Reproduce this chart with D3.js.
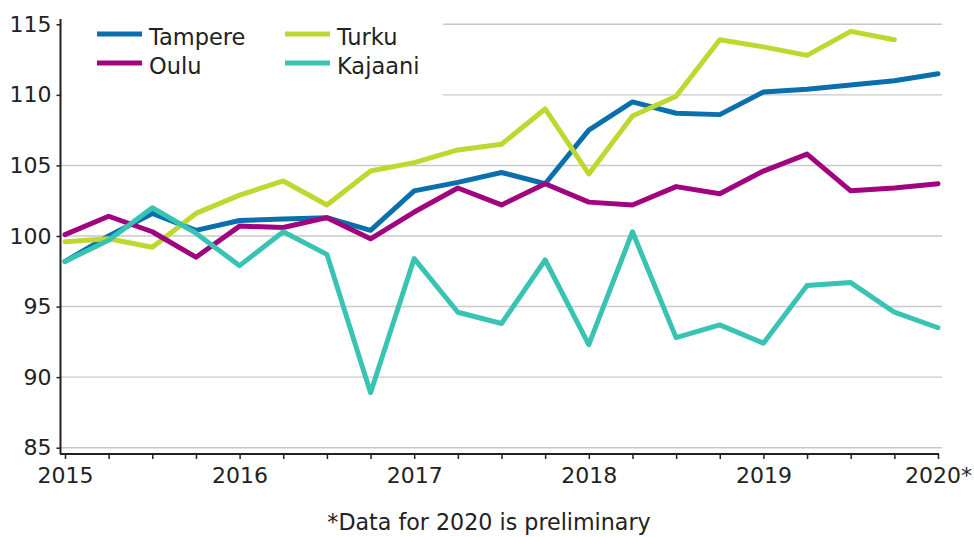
<!DOCTYPE html>
<html>
<head>
<meta charset="utf-8">
<script src="https://cdn.jsdelivr.net/npm/d3@7"></script>
<style>
    body { margin: 0; background: #fff; }
    svg { display: block; font-family: "DejaVu Sans", Verdana, sans-serif; }
</style>
</head>
<body>
<svg id="chart" width="974" height="537"></svg>
<script>
// quarterly index values, 2015Q1 .. 2020Q1
const quarters = d3.range(21);
const yearTicks = [0, 4, 8, 12, 16, 20];
const yearLabels = ["2015", "2016", "2017", "2018", "2019", "2020*"];
const yTicks = [85, 90, 95, 100, 105, 110, 115];

const tampere = [98.2, 100.0, 101.6, 100.4, 101.1, 101.2, 101.3, 100.4, 103.2, 103.8, 104.5, 103.7,
    107.5, 109.5, 108.7, 108.6, 110.2, 110.4, 110.7, 111.0, 111.5];
const turku = [99.6, 99.8, 99.2, 101.6, 102.9, 103.9, 102.2, 104.6, 105.2, 106.1, 106.5, 109.0,
    104.4, 108.5, 109.9, 113.9, 113.4, 112.8, 114.5, 113.9, null];
const oulu = [100.1, 101.4, 100.3, 98.5, 100.7, 100.6, 101.3, 99.8, 101.7, 103.4, 102.2, 103.7,
    102.4, 102.2, 103.5, 103.0, 104.6, 105.8, 103.2, 103.4, 103.7];
const kajaani = [98.2, 99.7, 102.0, 100.2, 97.9, 100.3, 98.7, 88.9, 98.4, 94.6, 93.8, 98.3,
    92.3, 100.3, 92.8, 93.7, 92.4, 96.5, 96.7, 94.6, 93.5];

const seriesNames = ["Tampere", "Turku", "Oulu", "Kajaani"];
const seriesValues = [tampere, turku, oulu, kajaani];
const seriesColors = ["#0a70ad", "#bfd72f", "#a0047f", "#38c3b2"];

let svg = d3.select("#chart");

let x = d3.scaleLinear().domain([0, 20]).range([65, 938]);
let y = d3.scaleLinear().domain([85, 115]).range([447.7, 24.3]);

// grid
svg.append("g")
    .selectAll("line")
    .data(yTicks)
    .join("line")
    .attr("x1", 61)
    .attr("x2", 942)
    .attr("y1", d => y(d))
    .attr("y2", d => y(d))
    .attr("stroke", "#c9c9c9")
    .attr("stroke-width", 1.4);

// legend backdrop hides grid behind it
svg.append("rect")
    .attr("x", 62)
    .attr("y", 10)
    .attr("width", 381)
    .attr("height", 92)
    .attr("fill", "#fff");

// y axis
let yAxis = svg.append("g")
    .attr("transform", "translate(60.5,0)")
    .call(d3.axisLeft(y).tickValues(yTicks).tickSize(4).tickPadding(5).tickSizeOuter(0));
yAxis.select(".domain").attr("stroke", "#222").attr("stroke-width", 2)
    .attr("d", "M0,19V454");
yAxis.selectAll(".tick line").attr("stroke", "#222").attr("stroke-width", 1.5);
yAxis.selectAll(".tick text")
    .attr("font-size", 22)
    .attr("font-family", "DejaVu Sans, sans-serif")
    .attr("fill", "#222");

// x axis
let xAxis = svg.append("g")
    .attr("transform", "translate(0,454)")
    .call(d3.axisBottom(x).tickValues(quarters).tickSize(5).tickPadding(8).tickSizeOuter(0)
        .tickFormat(d => {
            let k = yearTicks.indexOf(d);
            return k >= 0 ? yearLabels[k] : "";
        }));
xAxis.select(".domain").attr("stroke", "#222").attr("stroke-width", 2)
    .attr("d", "M60,0H939");
xAxis.selectAll(".tick line").attr("stroke", "#222").attr("stroke-width", 1.5);
xAxis.selectAll(".tick text")
    .attr("font-size", 22)
    .attr("font-family", "DejaVu Sans, sans-serif")
    .attr("fill", "#222");

// lines
let line = d3.line()
    .defined(d => d != null)
    .x((d, i) => x(i))
    .y(d => y(d));

svg.append("g")
    .selectAll("path")
    .data(seriesValues)
    .join("path")
    .attr("d", d => line(d))
    .attr("fill", "none")
    .attr("stroke", (d, i) => seriesColors[i])
    .attr("stroke-width", 5)
    .attr("stroke-linejoin", "round")
    .attr("stroke-linecap", "round");

// legend
let legendPos = [[97, 38], [285, 38], [97, 67], [285, 67]];
let legend = svg.append("g")
    .selectAll("g")
    .data(seriesNames)
    .join("g")
    .attr("transform", (d, i) => `translate(${legendPos[i][0]},${legendPos[i][1]})`);

legend.append("line")
    .attr("x1", 0)
    .attr("x2", 45)
    .attr("y1", -4)
    .attr("y2", -4)
    .attr("stroke", (d, i) => seriesColors[i])
    .attr("stroke-width", 5);

legend.append("text")
    .attr("x", 52)
    .attr("y", 7)
    .attr("font-size", 22.5)
    .attr("fill", "#222")
    .text(d => d);

// footnote
svg.append("text")
    .attr("x", 489)
    .attr("y", 530)
    .attr("text-anchor", "middle")
    .attr("font-size", 22.2)
    .attr("fill", "#222")
    .text("*Data for 2020 is preliminary");
</script>
</body>
</html>
